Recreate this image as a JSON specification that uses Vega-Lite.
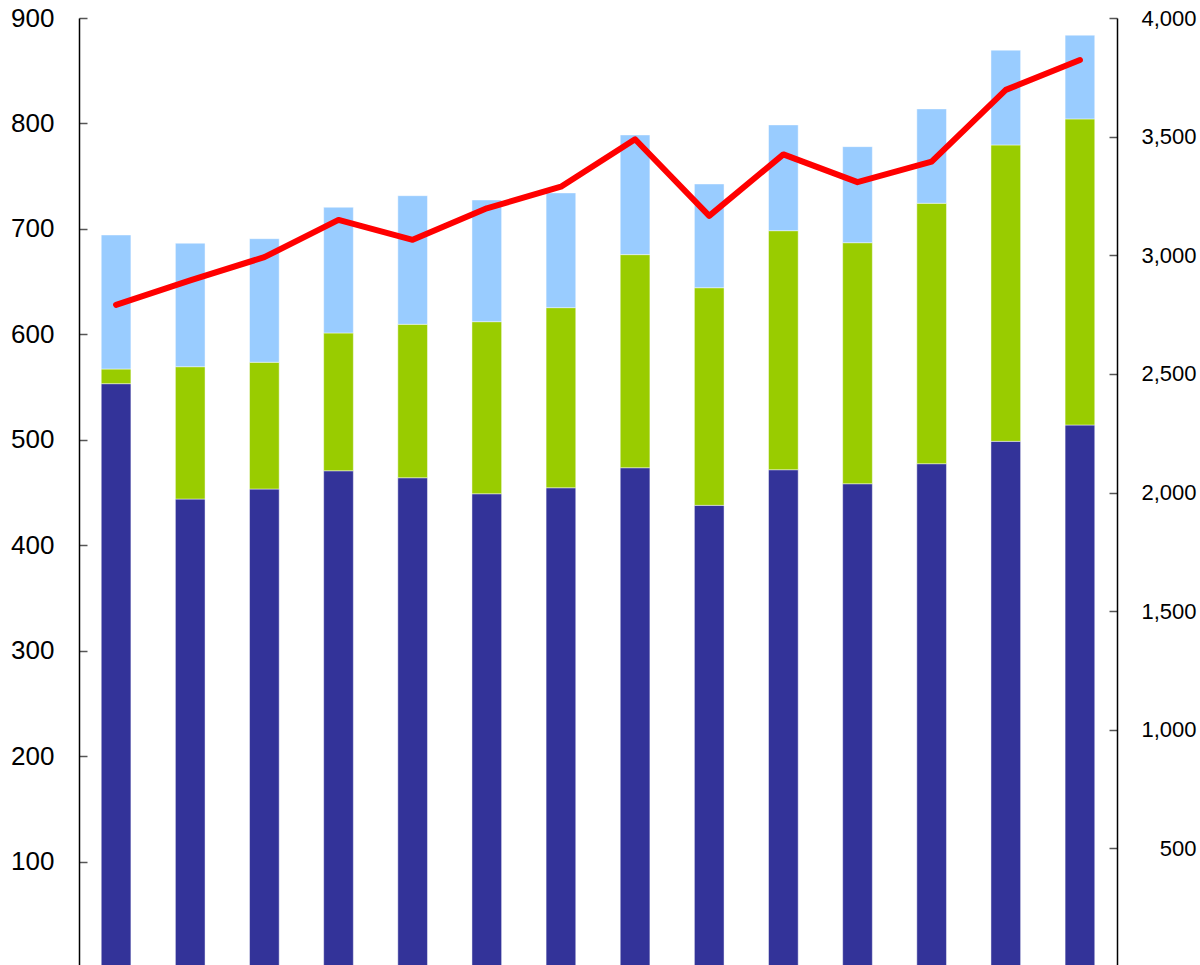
{
  "$schema": "https://vega.github.io/schema/vega-lite/v6.json",
  "width": 1038,
  "height": 949,
  "autosize": {"type": "none"},
  "padding": {"left": 79, "top": 18, "right": 83, "bottom": 0},
  "background": "white",
  "config": {
    "view": {"stroke": null},
    "axis": {"grid": false, "labelFont": "Liberation Sans", "labelColor": "#000000", "domainColor": "#000000", "domainWidth": 1.5, "tickColor": "#555555", "tickWidth": 1.5, "title": null}
  },
  "datasets": {
    "bars": [
      {"cat": 1, "series": "A", "ord": 1, "value": 553.2},
      {"cat": 1, "series": "B", "ord": 2, "value": 13.9},
      {"cat": 1, "series": "C", "ord": 3, "value": 127.1},
      {"cat": 2, "series": "A", "ord": 1, "value": 443.8},
      {"cat": 2, "series": "B", "ord": 2, "value": 125.5},
      {"cat": 2, "series": "C", "ord": 3, "value": 117.1},
      {"cat": 3, "series": "A", "ord": 1, "value": 453.3},
      {"cat": 3, "series": "B", "ord": 2, "value": 120.2},
      {"cat": 3, "series": "C", "ord": 3, "value": 117.2},
      {"cat": 4, "series": "A", "ord": 1, "value": 470.6},
      {"cat": 4, "series": "B", "ord": 2, "value": 130.7},
      {"cat": 4, "series": "C", "ord": 3, "value": 119.2},
      {"cat": 5, "series": "A", "ord": 1, "value": 464.0},
      {"cat": 5, "series": "B", "ord": 2, "value": 145.5},
      {"cat": 5, "series": "C", "ord": 3, "value": 122.0},
      {"cat": 6, "series": "A", "ord": 1, "value": 448.8},
      {"cat": 6, "series": "B", "ord": 2, "value": 163.2},
      {"cat": 6, "series": "C", "ord": 3, "value": 115.4},
      {"cat": 7, "series": "A", "ord": 1, "value": 454.5},
      {"cat": 7, "series": "B", "ord": 2, "value": 170.8},
      {"cat": 7, "series": "C", "ord": 3, "value": 108.8},
      {"cat": 8, "series": "A", "ord": 1, "value": 473.5},
      {"cat": 8, "series": "B", "ord": 2, "value": 202.1},
      {"cat": 8, "series": "C", "ord": 3, "value": 113.5},
      {"cat": 9, "series": "A", "ord": 1, "value": 437.8},
      {"cat": 9, "series": "B", "ord": 2, "value": 206.4},
      {"cat": 9, "series": "C", "ord": 3, "value": 98.4},
      {"cat": 10, "series": "A", "ord": 1, "value": 471.6},
      {"cat": 10, "series": "B", "ord": 2, "value": 226.7},
      {"cat": 10, "series": "C", "ord": 3, "value": 100.3},
      {"cat": 11, "series": "A", "ord": 1, "value": 458.3},
      {"cat": 11, "series": "B", "ord": 2, "value": 228.6},
      {"cat": 11, "series": "C", "ord": 3, "value": 91.1},
      {"cat": 12, "series": "A", "ord": 1, "value": 477.3},
      {"cat": 12, "series": "B", "ord": 2, "value": 247.0},
      {"cat": 12, "series": "C", "ord": 3, "value": 89.5},
      {"cat": 13, "series": "A", "ord": 1, "value": 498.5},
      {"cat": 13, "series": "B", "ord": 2, "value": 281.1},
      {"cat": 13, "series": "C", "ord": 3, "value": 89.9},
      {"cat": 14, "series": "A", "ord": 1, "value": 514.0},
      {"cat": 14, "series": "B", "ord": 2, "value": 290.3},
      {"cat": 14, "series": "C", "ord": 3, "value": 79.4}
    ],
    "line": [
      {"cat": 1, "total": 2791},
      {"cat": 2, "total": 2894},
      {"cat": 3, "total": 2992},
      {"cat": 4, "total": 3149},
      {"cat": 5, "total": 3065},
      {"cat": 6, "total": 3198},
      {"cat": 7, "total": 3289},
      {"cat": 8, "total": 3489},
      {"cat": 9, "total": 3166},
      {"cat": 10, "total": 3425},
      {"cat": 11, "total": 3308},
      {"cat": 12, "total": 3395},
      {"cat": 13, "total": 3697},
      {"cat": 14, "total": 3823}
    ]
  },
  "encoding": {
    "x": {
      "field": "cat",
      "type": "ordinal",
      "scale": {"paddingInner": 0.6, "paddingOuter": 0.3},
      "axis": null
    }
  },
  "layer": [
    {
      "data": {"name": "bars"},
      "mark": {"type": "bar", "stroke": "white", "strokeOpacity": 0.45, "strokeWidth": 1},
      "encoding": {
        "y": {
          "field": "value",
          "type": "quantitative",
          "stack": "zero",
          "scale": {"domain": [0, 900], "nice": false},
          "axis": {
            "orient": "left",
            "values": [100, 200, 300, 400, 500, 600, 700, 800, 900],
            "tickSize": -8,
            "labelPadding": 33,
            "labelFontSize": 26
          }
        },
        "color": {
          "field": "series",
          "type": "nominal",
          "scale": {"domain": ["A", "B", "C"], "range": ["#333399", "#99CC00", "#99CCFF"]},
          "legend": null
        },
        "order": {"field": "ord", "type": "quantitative"}
      }
    },
    {
      "data": {"name": "line"},
      "mark": {"type": "line", "color": "#FF0000", "strokeWidth": 6, "strokeCap": "round", "strokeJoin": "round"},
      "encoding": {
        "y": {
          "field": "total",
          "type": "quantitative",
          "scale": {"domain": [0, 4000], "nice": false},
          "axis": {
            "orient": "right",
            "values": [500, 1000, 1500, 2000, 2500, 3000, 3500, 4000],
            "format": ",d",
            "tickSize": -8,
            "labelAlign": "right",
            "labelPadding": 87,
            "labelFontSize": 22
          }
        }
      }
    }
  ],
  "resolve": {"scale": {"y": "independent"}}
}
